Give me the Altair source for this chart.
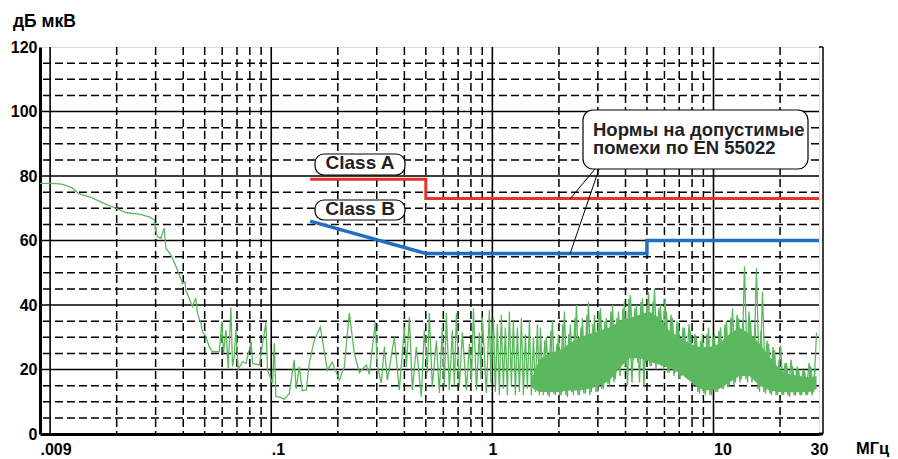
import altair as alt
import pandas as pd

# ---------------- data ----------------
x_tick_values = [0.009, 0.1, 1, 10, 30]
x_tick_labels = [".009", ".1", "1", "10", "30"]
y_tick_values = [0, 20, 40, 60, 80, 100, 120]

grid_major_x = [0.01, 0.1, 1, 10]
grid_minor_x = [0.02, 0.03, 0.04, 0.05, 0.06, 0.07, 0.08, 0.09,
                0.2, 0.3, 0.4, 0.5, 0.6, 0.7, 0.8, 0.9,
                2, 3, 4, 5, 6, 7, 8, 9, 20]
grid_major_y = [20, 40, 60, 80, 100]
grid_minor_y = [5, 10, 15, 25, 30, 35, 45, 50, 55, 65, 70, 75,
                85, 90, 95, 105, 110, 115]

class_a_freq = [0.15, 0.5, 0.5, 30]
class_a_db = [79, 79, 73, 73]
class_b_freq = [0.15, 0.5, 5, 5, 30]
class_b_db = [66, 56, 56, 60, 60]

# measured interference spectrum (MHz, dB uV)
trace_freq = [
    0.009, 0.0102, 0.0113, 0.0126, 0.0135, 0.0155, 0.0179, 0.0199, 0.0221, 0.0253,
    0.0281, 0.0296, 0.0301, 0.0306, 0.0317, 0.0328, 0.0334, 0.0352, 0.0371, 0.0384,
    0.0397, 0.0407, 0.0411, 0.0425, 0.0440, 0.0456, 0.0464, 0.0481, 0.0489, 0.0506,
    0.0524, 0.0543, 0.0582, 0.0598, 0.0608, 0.0624, 0.0639, 0.0657, 0.0668, 0.0680,
    0.0692, 0.0709, 0.0742, 0.0768, 0.0812, 0.0823, 0.0883, 0.0946, 0.0962, 0.1014,
    0.1032, 0.1050, 0.1087, 0.1146, 0.1206, 0.1270, 0.1297, 0.1339, 0.1381, 0.1440,
    0.1486, 0.1565, 0.1667, 0.1738, 0.1792, 0.1888, 0.2032, 0.2140, 0.2254, 0.2375,
    0.2503, 0.2691, 0.2776, 0.2955, 0.3017, 0.3147, 0.3247, 0.3350, 0.3603, 0.3796,
    0.3999, 0.4084, 0.4212, 0.4345, 0.4531, 0.4772, 0.4922, 0.5078, 0.5185, 0.5349,
    0.5580, 0.5756, 0.5938, 0.6066, 0.6194, 0.6390, 0.6592, 0.6735, 0.6876, 0.7093,
    0.7317, 0.7633, 0.7874, 0.8040, 0.8213, 0.8473, 0.8740, 0.8880, 0.9016, 0.9394,
    0.9692, 0.9850,
    1.0105, 1.0317, 1.0534, 1.0756, 1.0983, 1.1214, 1.1450, 1.1692, 1.1938, 1.2189,
    1.2446, 1.2708, 1.2976, 1.3249, 1.3528, 1.3813, 1.4104, 1.4401, 1.4704, 1.5014,
    1.5330, 1.5653, 1.5983, 1.6319,
    1.649, 1.701, 1.755, 1.811, 1.868, 1.928, 1.989, 2.052, 2.118, 2.185,
    2.254, 2.326, 2.400, 2.476, 2.554, 2.636, 2.719, 2.806, 2.895, 2.987,
    3.082, 3.180, 3.281, 3.385, 3.493, 3.603, 3.718, 3.836, 3.957, 4.083,
    4.212, 4.346, 4.484, 4.627, 4.773, 4.925, 5.081, 5.243, 5.409, 5.581,
    5.758, 5.941, 6.130, 6.324, 6.525, 6.732, 6.946, 7.167, 7.394, 7.629,
    7.871, 8.121, 8.379, 8.645, 8.919, 9.202, 9.494, 9.794, 10.10, 10.43,
    10.76, 11.10, 11.45, 11.81, 12.19, 12.58, 12.98, 13.39, 13.81, 14.25,
    14.70, 15.17, 15.65, 16.15, 16.66, 17.19, 17.74, 18.30, 18.88, 19.48,
    20.10, 20.74, 21.40, 22.07, 22.78, 23.50, 24.25, 25.02, 25.81, 26.63,
    27.48, 28.35, 29.25,
]
trace_db = [
    77.7, 77.7, 77.5, 76.3, 74.5, 73.2, 71.2, 70.0, 68.6, 68.2,
    67.3, 66.4, 62.7, 61.2, 60.7, 63.8, 57.6, 55.5, 51.9, 49.3,
    46.7, 47.2, 44.7, 42.1, 39.5, 42.1, 37.4, 34.3, 31.7, 30.2,
    27.1, 25.5, 25.5, 35.0, 25.0, 32.2, 20.4, 39.2, 20.9, 24.0,
    32.2, 20.1, 22.4, 21.9, 28.6, 21.9, 21.4, 34.6, 19.8, 15.7,
    28.1, 11.6, 11.5, 10.8, 12.5, 23.0, 14.0, 20.8, 13.5, 13.6,
    22.0, 29.0, 33.2, 25.5, 19.8, 22.3, 16.7, 20.8, 37.5, 25.0,
    19.0, 21.4, 18.5, 34.7, 21.0, 15.8, 27.0, 16.7, 30.0, 13.6,
    33.2, 20.8, 36.3, 13.6, 27.0, 11.5, 32.2, 19.0, 37.5, 14.6,
    29.0, 12.7, 33.2, 14.5, 37.5, 13.6, 32.2, 15.0, 37.5, 14.6,
    31.5, 13.6, 28.0, 16.0, 39.0, 13.6, 31.5, 17.0, 36.3, 12.7,
    38.4, 15.8,
    36, 13, 34, 12, 37, 14, 33, 12, 38, 15,
    35, 12, 33, 13, 36, 12, 31, 14, 35, 12,
    30, 13, 34, 12,
    33, 12, 30, 11.5, 35, 12, 31, 12, 38, 11.5,
    34, 12, 40, 12, 36, 12.5, 41, 13, 37, 13,
    39, 14, 36, 15, 40, 17, 38, 22, 41, 15,
    43, 23, 40, 16, 42, 22, 44, 21, 45, 22,
    40, 20, 38, 19, 36, 19, 34, 18, 33, 17,
    32, 15, 30, 12.5, 31, 12, 33, 12, 31, 13,
    33, 14, 35, 15, 39, 16, 36, 17, 52, 16,
    35, 17, 51.5, 13, 44, 12.5, 28, 12, 26, 12,
    27.5, 12, 22, 11.5, 21, 12, 20, 12, 19.5, 12,
    21, 13, 31.5,
]

# second, interleaved sweep of the dense part (1.6 - 29 MHz)
sweep2_freq = [
    1.675, 1.728, 1.783, 1.840, 1.897, 1.958, 2.020, 2.084, 2.151, 2.219,
    2.290, 2.363, 2.438, 2.515, 2.594, 2.678, 2.762, 2.850, 2.941, 3.034,
    3.131, 3.230, 3.333, 3.438, 3.548, 3.660, 3.777, 3.896, 4.019, 4.147,
    4.278, 4.414, 4.555, 4.700, 4.848, 5.003, 5.161, 5.326, 5.494, 5.669,
    5.849, 6.035, 6.227, 6.424, 6.628, 6.838, 7.055, 7.280, 7.510, 7.749,
    7.995, 8.249, 8.511, 8.781, 9.060, 9.347, 9.644, 9.948, 10.26, 10.59,
    10.93, 11.27, 11.63, 12.00, 12.38, 12.78, 13.18, 13.60, 14.03, 14.47,
    14.93, 15.41, 15.90, 16.40, 16.92, 17.46, 18.02, 18.59, 19.18, 19.79,
    20.42, 21.07, 21.74, 22.42, 23.14, 23.87, 24.63, 25.41, 26.22, 27.05,
    27.91, 28.80,
]
sweep2_db = [
    13, 29, 12, 32, 12.5, 28, 12, 34, 12, 31,
    13, 36, 12, 33, 12.5, 37, 12, 34, 13, 38,
    14, 35, 15.5, 38, 16, 36, 18, 39, 21, 42,
    16, 39, 22, 41, 15, 40, 21, 41, 20, 39,
    21, 42, 19, 37, 18, 35, 17, 33, 18, 34,
    16, 31, 13, 29, 12.5, 31, 12, 30, 13, 32,
    14, 34, 14.5, 36, 15, 37, 16, 35, 17, 38,
    16, 34, 14, 32, 13, 29, 12.5, 27, 12, 23,
    12, 22, 12, 23, 12, 21, 12, 20, 12, 22,
    12, 20,
]

# dense core of the spectrum above ~1.5 MHz (upper / lower edge)
band_freq = [1.50, 1.63, 1.81, 2.01, 2.23, 2.48, 2.75, 3.05, 3.38, 3.76, 4.17,
             4.63, 5.13, 5.70, 6.32, 7.02, 7.79, 8.64, 9.59, 10.65, 11.81,
             13.11, 14.55, 16.15, 17.92, 19.89, 22.07, 24.49, 27.18, 29.25]
band_hi = [17, 23, 25, 26, 28, 30, 31, 32, 33, 35, 36,
           37, 38, 36, 32, 30, 28, 27, 27, 28, 31,
           33, 31, 28, 24, 20, 18.5, 18, 17.5, 18]
band_lo = [14.5, 13, 13, 13, 13.5, 13.5, 14, 15, 16.5, 20.5, 23.5,
           23.5, 22.5, 21.5, 20.5, 19, 16.5, 14, 13.5, 14, 16,
           18, 18, 15, 13.5, 13, 13, 13, 13, 14]

# ---------------- chart ----------------
W, H = 779, 387
FONT = "Liberation Sans"
GREEN = "#5cb85f"
RED = "#e8322a"
BLUE = "#1f70c2"

xs = alt.Scale(type="log", domain=[0.009, 30], nice=False, zero=False)
ys = alt.Scale(domain=[0, 120], nice=False, zero=False)

label_expr = "".join(
    f"datum.value == {v} ? '{t}' : " for v, t in zip(x_tick_values, x_tick_labels)
) + "''"

x_axis = alt.Axis(values=x_tick_values, labelExpr=label_expr, title=None,
                  grid=False, ticks=False, domain=True, domainColor="black",
                  domainWidth=3, labelFont=FONT, labelFontWeight="bold",
                  labelFontSize=16, labelColor="black", labelPadding=7,
                  labelAlign={"condition": {"test": "datum.value == 1 || datum.value == 30",
                                            "value": "center"}, "value": "left"},
                  labelFlush=False, labelOverlap=False, labelBound=False)
y_axis = alt.Axis(values=y_tick_values, title=None, grid=False, ticks=False,
                  domain=True, domainColor="black", domainWidth=3,
                  labelFont=FONT, labelFontWeight="bold", labelFontSize=16,
                  labelColor="black", labelPadding=3, labelFlush=False,
                  labelOverlap=False, labelBound=False)


def X(field):
    return alt.X(field, type="quantitative", scale=xs, axis=x_axis)


def Y(field):
    return alt.Y(field, type="quantitative", scale=ys, axis=y_axis)


one = pd.DataFrame({"k": [0]})

minor_x = alt.Chart(pd.DataFrame({"f": grid_minor_x})).mark_rule(
    color="black", strokeWidth=1.5, strokeDash=[8, 4]).encode(x=X("f"))
minor_y = alt.Chart(pd.DataFrame({"v": grid_minor_y})).mark_rule(
    color="black", strokeWidth=1.5, strokeDash=[8, 4]).encode(y=Y("v"))
major_x = alt.Chart(pd.DataFrame({"f": grid_major_x})).mark_rule(
    color="black", strokeWidth=1.6).encode(x=X("f"))
major_y = alt.Chart(pd.DataFrame({"v": grid_major_y})).mark_rule(
    color="black", strokeWidth=1.6).encode(y=Y("v"))

band_df = pd.DataFrame({"f": band_freq, "hi": band_hi, "lo": band_lo})
band = alt.Chart(band_df).mark_area(color=GREEN, opacity=1).encode(
    x=X("f"), y=Y("hi"), y2="lo:Q")

trace_df = pd.DataFrame({"f": trace_freq, "db": trace_db, "i": range(len(trace_freq))})
trace = alt.Chart(trace_df).mark_line(color=GREEN, strokeWidth=1.3).encode(
    x=X("f"), y=Y("db"), order="i:Q")

sweep2_df = pd.DataFrame({"f": sweep2_freq, "db": sweep2_db, "i": range(len(sweep2_freq))})
sweep2 = alt.Chart(sweep2_df).mark_line(color=GREEN, strokeWidth=1.4).encode(
    x=X("f"), y=Y("db"), order="i:Q")

a_df = pd.DataFrame({"f": class_a_freq, "db": class_a_db, "i": range(len(class_a_freq))})
b_df = pd.DataFrame({"f": class_b_freq, "db": class_b_db, "i": range(len(class_b_freq))})
line_a = alt.Chart(a_df).mark_line(color=RED, strokeWidth=3).encode(
    x=X("f"), y=Y("db"), order="i:Q")
line_b = alt.Chart(b_df).mark_line(color=BLUE, strokeWidth=3.5).encode(
    x=X("f"), y=Y("db"), order="i:Q")


def box(x1, x2, y1, y2, r):
    return alt.Chart(one).mark_rect(cornerRadius=r, fill="white", stroke="black",
                                    strokeWidth=1.2).encode(
        x=alt.value(x1), x2=alt.value(x2), y=alt.value(y1), y2=alt.value(y2))


def label(s, x, y, size, align="left", baseline="alphabetic", color="#222"):
    return alt.Chart(one).mark_text(text=s, font=FONT, fontWeight="bold", fontSize=size,
                                    align=align, baseline=baseline, color=color).encode(
        x=alt.value(x), y=alt.value(y))


def seg(x1, y1, x2, y2, w=1.0):
    return alt.Chart(one).mark_rule(color="black", strokeWidth=w).encode(
        x=alt.value(x1), y=alt.value(y1), x2=alt.value(x2), y2=alt.value(y2))


frame = [
    seg(W + 4, 0, W + 4, H, 1.5),
    seg(W, 0, W + 4, 0, 1.5),
    seg(W, H, W + 4, H, 3),
]

chart = alt.layer(
    minor_x, minor_y, major_x, major_y,
    band, trace, sweep2, line_a, line_b,
    seg(555, 122, 530, 152), seg(559, 122, 530, 207),
    box(275, 365, 107, 128, 9), label("Class A", 320, 121.5, 19, align="center"),
    box(275, 365, 153, 173, 9), label("Class B", 320, 168, 19, align="center"),
    box(543, 768, 63, 122, 10),
    label("Нормы на допустимые", 553, 88.5, 18.5),
    label("помехи по EN 55022", 553, 107, 18.5),
    label("дБ мкВ", -27, -20, 17.5, color="black"),
    label("МГц", 816, 407, 16.5, color="black"),
    *frame,
).properties(
    width=W, height=H,
    autosize=alt.AutoSizeParams(type="none"),
    padding={"left": 32, "top": 39, "right": 71, "bottom": 23},
).configure_view(stroke="black", strokeWidth=1.5).configure(background="white")

chart.save("out.html", embed_options={"renderer": "svg", "actions": False})
